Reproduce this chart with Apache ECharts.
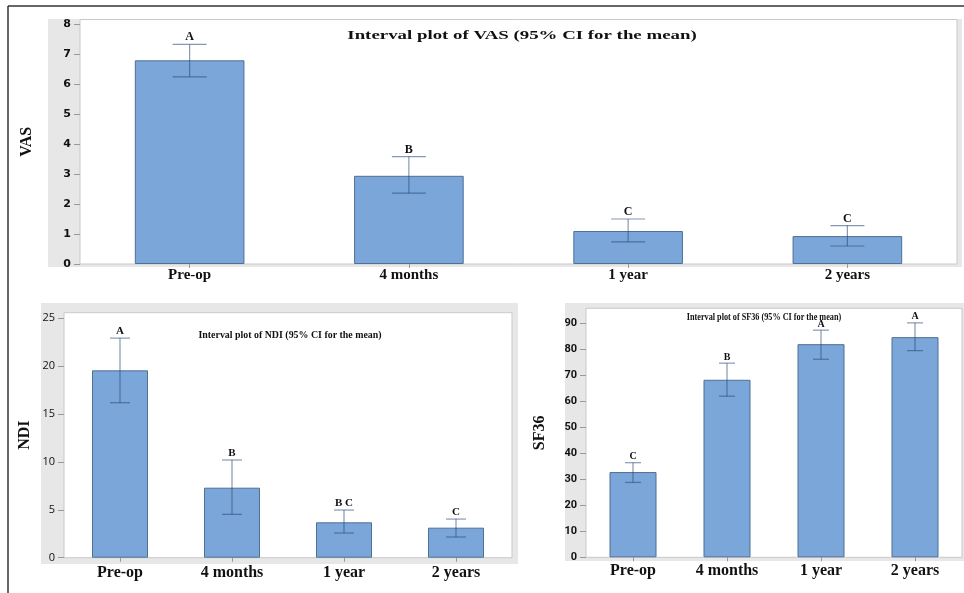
<!DOCTYPE html>
<html>
<head>
<meta charset="utf-8">
<script src="https://cdn.jsdelivr.net/npm/echarts@6/dist/echarts.min.js"></script>
<style>
  html, body { margin: 0; padding: 0; background: #fff; }
  #main { width: 964px; height: 593px; }
</style>
</head>
<body>
<div id="main"></div>
<script>
// data
var categories = ['Pre-op', '4 months', '1 year', '2 years']

var vasMean = [6.79, 2.94, 1.10, 0.93]
var vasLow = [6.24, 2.36, 0.74, 0.60]
var vasHigh = [7.32, 3.58, 1.50, 1.28]
var vasGroups = ['A', 'B', 'C', 'C']
var vasTicks = [0, 1, 2, 3, 4, 5, 6, 7, 8]

var ndiMean = [19.54, 7.30, 3.69, 3.13]
var ndiLow = [16.16, 4.52, 2.57, 2.16]
var ndiHigh = [22.90, 10.19, 4.97, 4.03]
var ndiGroups = ['A', 'B', 'B C', 'C']
var ndiTicks = [0, 5, 10, 15, 20, 25]

var sfMean = [32.8, 68.3, 82.0, 84.7]
var sfLow = [28.8, 62.0, 76.2, 79.5]
var sfHigh = [36.4, 74.7, 87.4, 90.2]
var sfGroups = ['C', 'B', 'A', 'A']
var sfTicks = [0, 10, 20, 30, 40, 50, 60, 70, 80, 90]

var barFill = '#7ba6d9'
var barEdge = '#4f6f96'
var whisker = 'rgba(35,70,115,0.55)'
var serif = '"Liberation Serif", "Times New Roman", serif'

var chart = echarts.init(document.getElementById('main'))

function ciData(low, high, groups) {
    return low.map(function (v, i) { return [i, v, high[i], groups[i]] })
}

function ciSeries(idx, low, high, groups, capHalf, fontSize) {
    return {
        type: 'custom',
        xAxisIndex: idx,
        yAxisIndex: idx,
        z: 5,
        data: ciData(low, high, groups),
        renderItem: function (params, api) {
            var lo = api.coord([api.value(0), api.value(1)])
            var hi = api.coord([api.value(0), api.value(2)])
            var x = lo[0]
            return {
                type: 'group',
                children: [
                    { type: 'line', shape: { x1: x, y1: hi[1], x2: x, y2: lo[1] }, style: { stroke: whisker, lineWidth: 1.2 } },
                    { type: 'line', shape: { x1: x - capHalf, y1: hi[1], x2: x + capHalf, y2: hi[1] }, style: { stroke: whisker, lineWidth: 1.2 } },
                    { type: 'line', shape: { x1: x - capHalf, y1: lo[1], x2: x + capHalf, y2: lo[1] }, style: { stroke: whisker, lineWidth: 1.2 } },
                    {
                        type: 'text',
                        style: {
                            x: x, y: hi[1] - 1,
                            text: api.value(3),
                            align: 'center', verticalAlign: 'bottom',
                            font: 'bold ' + fontSize + 'px ' + serif,
                            fill: '#111'
                        }
                    }
                ]
            }
        }
    }
}

function barSeries(idx, values) {
    return {
        type: 'bar',
        xAxisIndex: idx,
        yAxisIndex: idx,
        barWidth: '50%',
        data: values,
        itemStyle: { color: barFill, borderColor: barEdge, borderWidth: 1 }
    }
}

function xAxisFor(idx, size, margin) {
    return {
        type: 'category',
        gridIndex: idx,
        data: categories,
        axisLine: { show: false },
        axisTick: { show: true, alignWithLabel: true, length: 4, lineStyle: { color: '#999' } },
        axisLabel: { margin: margin, fontFamily: serif, fontWeight: 'bold', fontSize: size, color: '#111' }
    }
}

function yAxisFor(idx, max, ticks, name, gap, labelStyle) {
    return {
        type: 'value',
        gridIndex: idx,
        min: 0,
        max: max,
        name: name,
        nameLocation: 'middle',
        nameGap: gap,
        nameTextStyle: { fontFamily: serif, fontWeight: 'bold', fontSize: 16, color: '#111' },
        axisLine: { show: false },
        splitLine: { show: false },
        axisTick: { show: true, length: 6, customValues: ticks, lineStyle: { color: '#999' } },
        axisLabel: Object.assign({ customValues: ticks, margin: 9, color: '#111' }, labelStyle)
    }
}

function greyBox(x1, y1, x2, y2) {
    return { type: 'rect', z: -10, silent: true, shape: { x: x1, y: y1, width: x2 - x1, height: y2 - y1 }, style: { fill: '#e7e7e7' } }
}

function plotTitle(text, cx, cy, size, sx) {
    return {
        type: 'text', z: 10, x: cx, y: cy, scaleX: sx,
        style: { text: text, align: 'center', verticalAlign: 'middle', font: 'bold ' + size + 'px ' + serif, fill: '#111' }
    }
}

chart.setOption({
    animation: false,
    grid: [
        { left: 80, top: 19.5, width: 877, height: 244.5, show: true, backgroundColor: '#fff', borderColor: '#c9c9c9', borderWidth: 1 },
        { left: 64, top: 312.7, width: 448, height: 245, show: true, backgroundColor: '#fff', borderColor: '#c9c9c9', borderWidth: 1 },
        { left: 586, top: 308.3, width: 376, height: 249, show: true, backgroundColor: '#fff', borderColor: '#c9c9c9', borderWidth: 1 }
    ],
    xAxis: [
        xAxisFor(0, 15, 4),
        xAxisFor(1, 16, 7),
        xAxisFor(2, 16, 6)
    ],
    yAxis: [
        yAxisFor(0, 8.15, vasTicks, 'VAS', 45, { fontFamily: '"DejaVu Sans", sans-serif', fontWeight: 'bold', fontSize: 11 }),
        yAxisFor(1, 25.55, ndiTicks, 'NDI', 31, { fontFamily: '"Open Sans", sans-serif', fontSize: 11 }),
        yAxisFor(2, 95.8, sfTicks, 'SF36', 38, { fontFamily: 'Roboto, sans-serif', fontWeight: 'bold', fontSize: 11 })
    ],
    graphic: [
        greyBox(48, 19, 962, 267),
        greyBox(41, 303, 518, 564),
        greyBox(565, 303, 964, 561),
        { type: 'line', shape: { x1: 8, y1: 6, x2: 964, y2: 6 }, style: { stroke: '#333', lineWidth: 1.5 } },
        { type: 'line', shape: { x1: 8, y1: 6, x2: 8, y2: 593 }, style: { stroke: '#333', lineWidth: 1.5 } },
        plotTitle('Interval plot of VAS (95% CI for the mean)', 522, 36, 13, 1.45),
        plotTitle('Interval plot of NDI (95% CI for the mean)', 290, 335, 11, 0.9),
        plotTitle('Interval plot of SF36 (95% CI for the mean)', 764, 317, 10, 0.82)
    ],
    series: [
        barSeries(0, vasMean),
        ciSeries(0, vasLow, vasHigh, vasGroups, 17, 12),
        barSeries(1, ndiMean),
        ciSeries(1, ndiLow, ndiHigh, ndiGroups, 10, 11),
        barSeries(2, sfMean),
        ciSeries(2, sfLow, sfHigh, sfGroups, 8, 10)
    ]
})
</script>
</body>
</html>
